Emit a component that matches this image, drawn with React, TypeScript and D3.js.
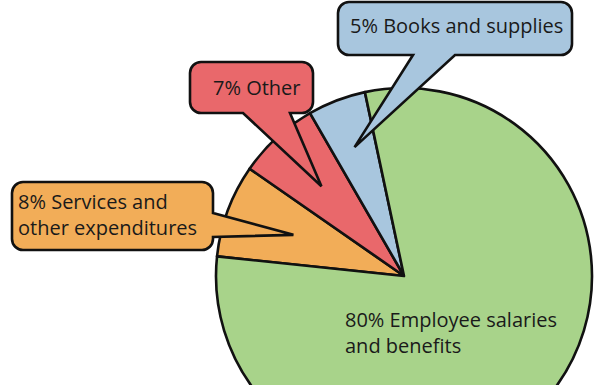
import React from "react";
import * as d3 from "d3";

// Data (clockwise order from the left side of the pie)
const categories = [
  "Services and other expenditures",
  "Other",
  "Books and supplies",
  "Employee salaries and benefits",
];
const values = [8, 7, 5, 80];
const labelLines = [
  ["8% Services and", "other expenditures"],
  ["7% Other"],
  ["5% Books and supplies"],
  ["80% Employee salaries", "and benefits"],
];
const colors = ["#f2ad58", "#e9686b", "#a8c6de", "#a8d38a"];

const W = 600;
const H = 385;
const CX = 404;
const CY = 276;
const R = 188;
const FONT = "'Open Sans', 'Noto Sans', sans-serif";

type Box = { x: number; y: number; w: number; h: number; side: "bottom" | "right"; b1: number; b2: number; tipR: number; tx: number; ty: number };
const boxes: (Box | null)[] = [
  { x: 12, y: 182, w: 201, h: 68, side: "right", b1: 213, b2: 237, tipR: 118, tx: 18, ty: 209 },
  { x: 190, y: 62, w: 123, h: 51, side: "bottom", b1: 243, b2: 290, tipR: 122, tx: 213, ty: 95 },
  { x: 338, y: 2, w: 234, h: 53, side: "bottom", b1: 413, b2: 455, tipR: 138, tx: 350, ty: 33 },
  null,
];

function calloutPath(b: Box, tip: [number, number]) {
  const r = 11;
  const { x, y, w, h } = b;
  const p = d3.path();
  p.moveTo(x + r, y);
  p.lineTo(x + w - r, y);
  p.arcTo(x + w, y, x + w, y + r, r);
  if (b.side === "right") {
    p.lineTo(x + w, b.b1);
    p.lineTo(tip[0], tip[1]);
    p.lineTo(x + w, b.b2);
  }
  p.lineTo(x + w, y + h - r);
  p.arcTo(x + w, y + h, x + w - r, y + h, r);
  if (b.side === "bottom") {
    p.lineTo(b.b2, y + h);
    p.lineTo(tip[0], tip[1]);
    p.lineTo(b.b1, y + h);
  }
  p.lineTo(x + r, y + h);
  p.arcTo(x, y + h, x, y + h - r, r);
  p.lineTo(x, y + r);
  p.arcTo(x, y, x + r, y, r);
  p.closePath();
  return p.toString();
}

export default function App() {
  const nonGreen = d3.sum(values.slice(0, 3)) / d3.sum(values);
  const midNonGreen = (-48 * Math.PI) / 180;
  const start = midNonGreen - (nonGreen * Math.PI);
  const pie = d3
    .pie<number>()
    .sort(null)
    .value((d) => d)
    .startAngle(start)
    .endAngle(start + 2 * Math.PI);
  const arcs = pie(values);
  const arc = d3.arc<d3.PieArcDatum<number>>().innerRadius(0).outerRadius(R);

  return (
    <svg
      width={W}
      height={H}
      style={{ position: "absolute", left: 0, top: 0, background: "#fff" }}
      fontFamily={FONT}
    >
      <g transform={`translate(${CX},${CY})`}>
        {arcs.map((a, i) => (
          <path
            key={categories[i]}
            d={arc(a) || ""}
            fill={colors[i]}
            stroke="#111"
            strokeWidth={2.6}
            strokeLinejoin="round"
          />
        ))}
      </g>
      {arcs.map((a, i) => {
        const b = boxes[i];
        if (!b) return null;
        const mid = (a.startAngle + a.endAngle) / 2;
        const tip: [number, number] = [CX + b.tipR * Math.sin(mid), CY - b.tipR * Math.cos(mid)];
        return (
          <g key={"c" + i}>
            <path d={calloutPath(b, tip)} fill={colors[i]} stroke="#111" strokeWidth={2.6} strokeLinejoin="miter" />
            {labelLines[i].map((t, j) => (
              <text key={j} x={b.tx} y={b.ty + j * 26} fontSize={20} fill="#1a1a1a">
                {t}
              </text>
            ))}
          </g>
        );
      })}
      {labelLines[3].map((t, j) => (
        <text key={"g" + j} x={345} y={327 + j * 26} fontSize={20} fill="#1a1a1a">
          {t}
        </text>
      ))}
    </svg>
  );
}
